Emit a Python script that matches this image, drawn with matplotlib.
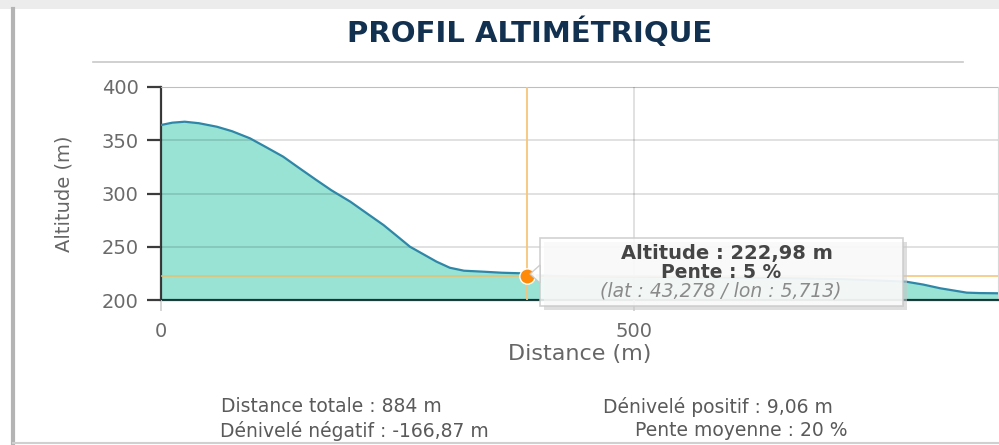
import matplotlib
matplotlib.use("Agg")
import matplotlib.pyplot as plt
from matplotlib.patches import FancyBboxPatch, Rectangle, Polygon
from matplotlib.lines import Line2D

# elevation profile
distance_m = [0, 12, 25, 40, 59, 75, 94, 110, 129, 145, 164, 180, 200, 218, 235, 250, 263, 278,
              291, 305, 320, 340, 360, 383, 387, 420, 480, 540, 600, 660, 720, 787, 805, 823,
              851, 865, 884]
altitude_m = [364.3, 366.5, 367.4, 366.0, 362.7, 358.5, 351.8, 344.0, 334.6, 324.5, 312.7, 303.0,
              292.3, 281.0, 270.4, 259.5, 250.0, 242.5, 236.0, 230.3, 227.5, 226.6, 225.6, 225.0,
              222.98, 222.5, 222.0, 221.5, 221.0, 220.5, 219.5, 217.2, 214.5, 211.0, 206.9,
              206.5, 206.3]

hover_distance = 387
hover_altitude = 222.98
hover_lines = ["Altitude : 222,98 m", "Pente : 5 %", "(lat : 43,278 / lon : 5,713)"]

x_ticks = [0, 500]
y_ticks = [200, 250, 300, 350, 400]

stats = [
    ("Distance totale : 884 m", 331, 407),
    ("Dénivelé positif : 9,06 m", 718, 407),
    ("Dénivelé négatif : -166,87 m", 354, 431),
    ("Pente moyenne : 20 %", 741, 431),
]

plt.rcParams["font.family"] = ["DejaVu Sans"]

W, H = 999, 445
fig = plt.figure(figsize=(W / 100, H / 100), dpi=100)
fig.patch.set_facecolor("white")


def fx(px):
    return px / W


def fy(py):
    return 1 - py / H


# card border / shadow
fig.add_artist(Rectangle((0, fy(9)), 1, 9 / H, transform=fig.transFigure,
                         facecolor="#ececec", edgecolor="none"))
fig.add_artist(Line2D([fx(13), fx(13)], [fy(9), fy(445)], transform=fig.transFigure,
                      color="#b4b4b4", linewidth=3))
fig.add_artist(Line2D([fx(13), 1], [fy(443), fy(443)], transform=fig.transFigure,
                      color="#d0d0d0", linewidth=1.5))

fig.text(fx(530), fy(33), "PROFIL ALTIMÉTRIQUE", ha="center", va="center",
         fontsize=21, fontweight="bold", color="#12304f")
fig.add_artist(Line2D([fx(93), fx(963)], [fy(62), fy(62)], transform=fig.transFigure,
                      color="#c8c8c8", linewidth=1.2))

ax = fig.add_axes([fx(161), fy(300), fx(998) - fx(161), (300 - 87) / H])
ax.fill_between(distance_m, altitude_m, 200, color="#98e3d4", linewidth=0, zorder=1)
ax.plot(distance_m, altitude_m, color="#2f86a6", linewidth=1.6, zorder=3)

ax.set_xlim(0, 884)
ax.set_ylim(200, 400)
ax.set_xticks(x_ticks)
ax.set_yticks(y_ticks)
ax.grid(True, color="black", alpha=0.14, linewidth=1.2, zorder=2)
ax.set_axisbelow(False)

for side in ("top", "right"):
    ax.spines[side].set_color("#d8d8d8")
ax.spines["left"].set_color("#3c3c3c")
ax.spines["left"].set_linewidth(1.6)
ax.spines["bottom"].set_color("#1d3c3c")
ax.spines["bottom"].set_linewidth(1.6)
ax.tick_params(axis="y", direction="out", length=10, width=1.6, color="#3c3c3c",
               labelsize=14, labelcolor="#6a6a6a", pad=6)
ax.tick_params(axis="x", direction="out", length=8, width=1.2, color="#d0d0d0",
               labelsize=14, labelcolor="#6a6a6a", pad=8)
ax.set_xlabel("Distance (m)", fontsize=16, color="#666666", labelpad=2)
ax.set_ylabel("Altitude (m)", fontsize=14, color="#666666", labelpad=20)

# crosshair on hovered point
ax.axvline(hover_distance, color="#f8c57c", linewidth=1.3, zorder=4)
ax.axhline(hover_altitude, color="#f2bb63", linewidth=1.1, alpha=0.9, zorder=4)
ax.plot([hover_distance], [hover_altitude], "o", color="#ff8a0a", markersize=11,
        markeredgecolor="white", markeredgewidth=1.0, zorder=5)

# tooltip
tip_shadow = FancyBboxPatch((fx(544), fy(310)), fx(907) - fx(544), (310 - 242) / H,
                            boxstyle="square,pad=0", transform=fig.transFigure,
                            facecolor="#c8c8c8", edgecolor="none", alpha=0.6)
fig.add_artist(tip_shadow)
tip = FancyBboxPatch((fx(540), fy(306)), fx(903) - fx(540), (306 - 238) / H,
                     boxstyle="square,pad=0", transform=fig.transFigure,
                     facecolor="white", edgecolor="#c9c9c9", linewidth=1.2, alpha=0.84)
fig.add_artist(tip)
fig.add_artist(Polygon([(fx(540), fy(265)), (fx(530), fy(274)), (fx(540), fy(283))],
                       closed=True, transform=fig.transFigure, facecolor="white",
                       edgecolor="#c9c9c9", linewidth=1.0, alpha=0.9))
fig.text(fx(727), fy(254), hover_lines[0], ha="center", va="center", fontsize=14,
         fontweight="bold", color="#454545")
fig.text(fx(721), fy(272), hover_lines[1], ha="center", va="center", fontsize=13.5,
         fontweight="bold", color="#454545")
fig.text(fx(721), fy(291), hover_lines[2], ha="center", va="center", fontsize=13.5,
         style="italic", color="#8a8a8a")

for label, cx, cy in stats:
    fig.text(fx(cx), fy(cy), label, ha="center", va="center", fontsize=13.5, color="#5a5a5a")

fig.savefig("out.png", dpi=100)
